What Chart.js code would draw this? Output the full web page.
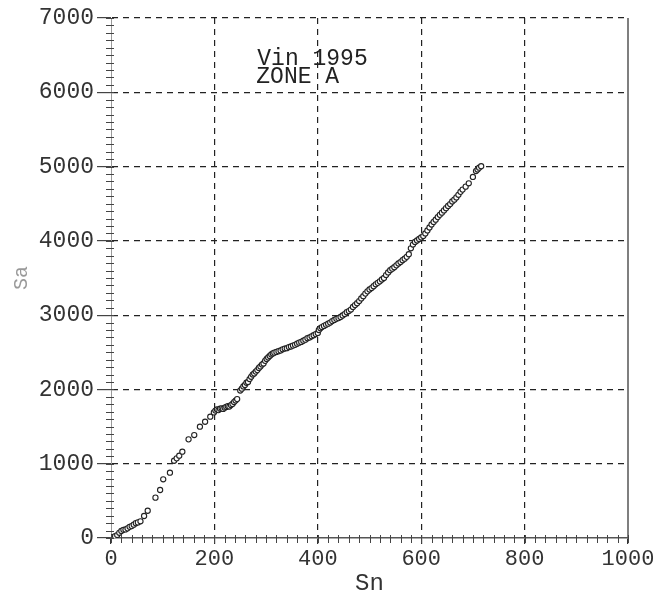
<!DOCTYPE html>
<html><head><meta charset="utf-8">
<script src="https://cdn.jsdelivr.net/npm/chart.js@4/dist/chart.umd.min.js"></script>
<style>html,body{margin:0;padding:0;background:#fff}#w{width:653px;height:598px}</style>
</head><body><div id="w"><canvas id="c"></canvas></div>
<script>
const snValues = [3,8,12,16,20,24,28,32,36,40,44,48,52,57,64,71,86,95,101,114,122,127,132,138,150,161,172,182,192,
199,202,205,208,211,214,217,220,223,226,229,232,235,238,241,244,
250,253,256,259,262,265,268,271,274,277,280,283,286,289,292,295,298,301,304,307,310,313,316,320,324,328,332,336,340,344,348,352,356,360,364,368,372,376,380,384,388,392,396,400,
402,405,408,412,416,420,424,428,432,436,440,444,448,452,456,460,464,468,472,476,480,484,488,492,496,500,504,508,512,516,520,524,528,532,536,540,544,548,552,556,560,564,568,572,576,
580,584,588,592,596,600,604,608,612,616,620,624,628,632,636,640,644,648,652,656,660,664,668,672,676,680,686,692,700,706,709,712,716];
const saValues = [10,25,40,70,95,110,115,130,150,160,180,200,210,225,296,367,543,646,790,879,1040,1072,1108,1162,1328,1386,1498,1565,1633,
1690,1715,1730,1722,1740,1745,1738,1755,1765,1775,1770,1790,1805,1830,1850,1870,
1985,2010,2040,2060,2090,2100,2140,2170,2200,2215,2240,2260,2290,2310,2335,2350,2385,2410,2430,2450,2470,2485,2495,2505,2515,2525,2540,2550,2555,2570,2578,2590,2600,2615,2630,2640,2655,2670,2690,2700,2715,2730,2745,2760,
2800,2825,2840,2855,2870,2885,2900,2920,2935,2950,2960,2975,2995,3015,3040,3055,3075,3110,3135,3160,3190,3225,3255,3290,3320,3345,3365,3390,3415,3435,3455,3480,3500,3540,3575,3605,3625,3645,3670,3695,3715,3740,3760,3785,3820,
3900,3950,3985,4005,4025,4045,4065,4100,4140,4180,4220,4255,4285,4320,4350,4380,4410,4440,4470,4495,4530,4555,4585,4620,4660,4690,4730,4775,4860,4940,4960,4985,5005];
const xTicks = [0,200,400,600,800,1000];
const yTicks = [0,1000,2000,3000,4000,5000,6000,7000];
const noteLines = ["Vin 1995","ZONE A"];
const xTitle = "Sn";
const yTitle = "Sa";

const pts = snValues.map((x,i)=>({x:x,y:saValues[i]}));
const mono = "'Liberation Mono', 'Courier New', monospace";

const extras = {
  id:'extras',
  afterDraw(chart){
    const {ctx, chartArea:a, scales:{x,y}} = chart;
    ctx.save();
    ctx.strokeStyle='#555'; ctx.lineWidth=1.5;
    ctx.beginPath(); ctx.moveTo(a.right, a.top); ctx.lineTo(a.right, a.bottom); ctx.stroke();
    ctx.strokeStyle='#444'; ctx.lineWidth=1;
    for(let v=0; v<=7000; v+=100){
      const py = Math.round(y.getPixelForValue(v))+0.5;
      ctx.beginPath(); ctx.moveTo(a.left-5, py); ctx.lineTo(a.left+3, py); ctx.stroke();
    }
    for(let v=0; v<=1000; v+=20){
      const px = Math.round(x.getPixelForValue(v))+0.5;
      ctx.beginPath(); ctx.moveTo(px, a.bottom-3); ctx.lineTo(px, a.bottom+5); ctx.stroke();
    }
    ctx.fillStyle='#222';
    ctx.font = "23px " + mono;
    ctx.textBaseline='alphabetic';
    ctx.fillText(noteLines[0], x.getPixelForValue(283), y.getPixelForValue(6370));
    ctx.fillText(noteLines[1], x.getPixelForValue(281), y.getPixelForValue(6130));
    ctx.restore();
  }
};

new Chart(document.getElementById('c'), {
  type:'scatter',
  data:{datasets:[{data:pts, pointStyle:'circle', pointRadius:2.6, pointBorderWidth:1.1,
    borderColor:'#222', backgroundColor:'#fff', pointHoverRadius:2.6}]},
  options:{
    responsive:true, maintainAspectRatio:false, animation:false,
    plugins:{legend:{display:false}, tooltip:{enabled:false}},
    layout:{padding:{left:0, top:18, right:25, bottom:0}},
    scales:{
      x:{type:'linear', min:0, max:1000,
        afterBuildTicks(s){ s.ticks = xTicks.map(v=>({value:v})); },
        afterFit(s){ s.height = 60; s.paddingRight = 0; s.paddingLeft = 0; },
        grid:{color:(c)=> (c.tick && (c.tick.value===0||c.tick.value===1000)) ? 'rgba(0,0,0,0)' : '#222',
          lineWidth:1.2, drawTicks:true, tickLength:6, tickColor:'#333', tickBorderDash:[]},
        border:{display:true, color:'#555', width:1.5, dash:[6,5]},
        ticks:{color:'#333', font:{family:mono, size:22}, padding:2, maxRotation:0, autoSkip:false,
          callback:(v)=>String(v)},
        title:{display:true, text:xTitle, color:'#333', font:{family:mono, size:24}, padding:{top:2,bottom:0}}
      },
      y:{type:'linear', min:0, max:7000,
        afterBuildTicks(s){ s.ticks = yTicks.map(v=>({value:v})); },
        afterFit(s){ s.width = 111; },
        grid:{color:(c)=> (c.tick && c.tick.value===0) ? 'rgba(0,0,0,0)' : '#222',
          lineWidth:1.2, drawTicks:true, tickLength:14, tickColor:'#444', tickBorderDash:[]},
        border:{display:true, color:'#999', width:1, dash:[6,5]},
        ticks:{color:'#333', font:{family:mono, size:23}, padding:3, autoSkip:false,
          callback:(v)=>String(v)},
        title:{display:true, text:yTitle, color:'#999', font:{family:mono, size:20}, padding:{top:10,bottom:0}}
      }
    }
  },
  plugins:[extras]
});
</script>
</body></html>
